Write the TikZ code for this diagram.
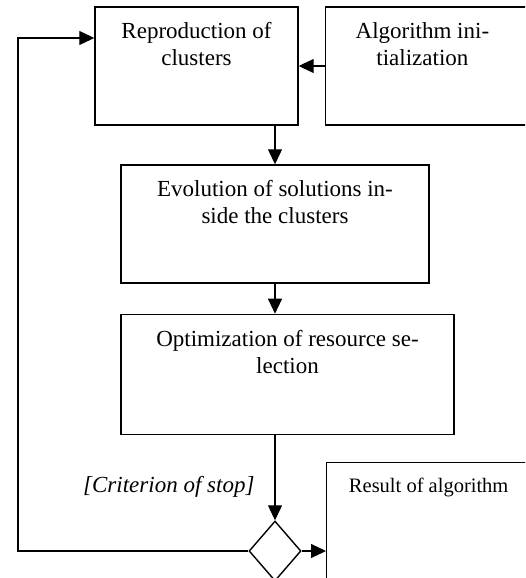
\documentclass[tikz,border=0pt]{standalone}
\usepackage{fontspec}
\setmainfont{Liberation Serif}
\usetikzlibrary{arrows.meta,positioning,shapes.geometric}

\begin{document}
\begin{tikzpicture}[x=1pt, y=-1pt,
 font=\fontsize{23}{27}\selectfont,
 box/.style={draw,line width=1.4pt,inner sep=0pt,minimum width=#1},
 boxtxt/.style={label={[align=center,anchor=north,inner sep=0pt,yshift=-16pt]north:#1}},
 cond/.style={draw,diamond,line width=1.4pt,inner sep=0pt,minimum width=52pt,minimum height=60pt},
 arr/.style={-{Triangle[length=15pt,width=14pt]},line width=1.1pt}]
\useasboundingbox (0,0) rectangle (525,578);
\clip (0,0) rectangle (525,578);
\node[box=203pt,minimum height=118pt,boxtxt={Reproduction of\\clusters}] (repr) at (196.5,66) {};
\node[box=206pt,minimum height=118pt,right=26pt of repr,
  label={[align=center,anchor=north,inner sep=0pt,xshift=-6pt,yshift=-16pt]north:{Algorithm ini-\\tialization}}] (init) {};
\node[box=308pt,minimum height=118pt,boxtxt={Evolution of solutions in-\\side the clusters}] (evol) at (275,224) {};
\node[box=333pt,minimum height=120pt,below=30pt of evol.south west,anchor=north west,
  boxtxt={Optimization of resource se-\\lection}] (opt) {};
\node[cond] (dec) at (275,551) {};
\node[box=204pt,minimum height=140pt,anchor=north west,
  label={[anchor=north,inner sep=0pt,yshift=-16pt,font=\fontsize{20.5}{24}\selectfont]north:Result of algorithm}] (res) at (326,462) {};
\coordinate (loop) at (18,551);
% connectors
\draw[arr] (init.west) -- (repr.east);
\draw[arr] (repr.south -| evol.north) -- (evol.north);
\draw[arr] (evol.south) -- (evol.south |- opt.north);
\draw[arr] (opt.south -| dec.north) -- node[pos=0.61,left=20pt,inner sep=0pt,font=\fontsize{23}{27}\selectfont\itshape] {[Criterion of stop]} (dec.north);
\draw[arr] (dec.east) -- (dec.east -| res.west);
\draw[arr] (dec.west) -- (loop) |- ([yshift=28pt]repr.west);
\end{tikzpicture}
\end{document}
